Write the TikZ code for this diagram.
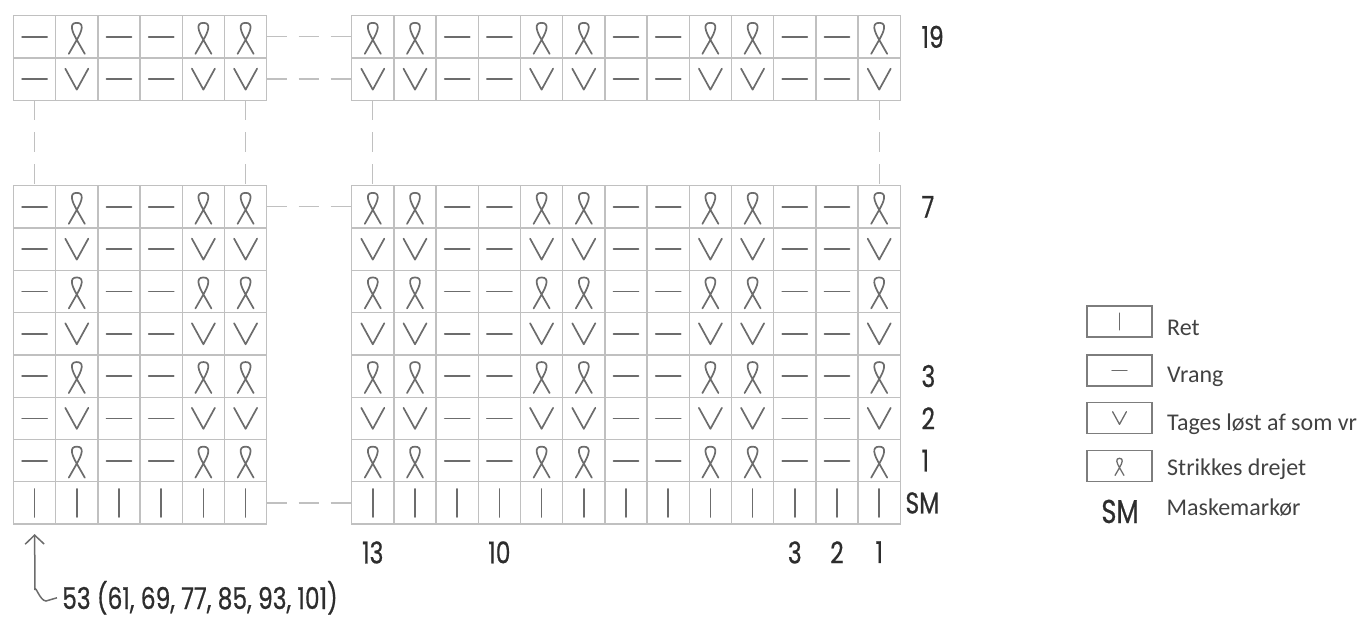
\documentclass[tikz,border=0pt]{standalone}
\usepackage{fontspec}
\usetikzlibrary{arrows.meta,positioning}
\setmainfont{Carlito}
\newfontfamily\chartfont[FakeStretch=0.78,FakeBold=0.6]{Poppins}
\definecolor{gridgray}{RGB}{192,192,192}
\definecolor{symgray}{RGB}{108,108,108}
\definecolor{textgray}{RGB}{45,45,45}
\definecolor{keygray}{RGB}{125,125,125}

\begin{document}
\begin{tikzpicture}[x=1pt,y=-1pt,
    cell/.style={draw=gridgray,line width=1.3pt,minimum width=42.2pt,
                 minimum height=42.3pt,inner sep=0pt,outer sep=0pt},
    sym/.style={draw=symgray,line width=1.7pt,line cap=round,line join=round},
    link/.style={draw=gridgray,line width=1.3pt,dash pattern=on 20pt off 12pt},
    chartlbl/.style={font=\chartfont\fontsize{30}{30}\selectfont,text=textgray,inner sep=0pt},
    keybox/.style={draw=keygray,line width=1.4pt,minimum width=65pt,minimum height=31pt,
                   inner sep=0pt,outer sep=0pt},
    keytxt/.style={font=\fontsize{24}{24}\selectfont,text=textgray!90,inner sep=0pt},
    pointer/.style={draw=symgray,line width=1.5pt,-{Straight Barb[length=9pt,width=19pt]}},
    pics/stitch/.style={code={
      \ifcase#1\relax
        \draw[sym] (-12.5,0) -- (12.5,0);
      \or
        \draw[sym] (-8,17) -- (0,3) .. controls (5,-5.5) and (8,-14) .. (0,-14)
                   .. controls (-8,-14) and (-5,-5.5) .. (0,3) -- (8,17);
      \or
        \draw[sym] (-11.5,-10.5) -- (0,10.5) -- (11.5,-10.5);
      \or
        \draw[sym] (0,-14) -- (0,14);
      \fi}}
]
    \useasboundingbox (0,0) rectangle (1365,617);

    % left part, rows 19 and 18
    \foreach \t [count=\r from 0] in {1,2}
      \foreach \f [count=\c from 0] in {0,1,0,0,1,1} {
        \pgfmathtruncatemacro\k{\f*\t}
        \node[cell] (LT-\r-\c) at (34.6+42.2*\c,36.85+42.3*\r) {};
        \pic at (LT-\r-\c) {stitch=\k};
      }
    % right part, rows 19 and 18
    \foreach \t [count=\r from 0] in {1,2}
      \foreach \f [count=\c from 0] in {1,1,0,0,1,1,0,0,1,1,0,0,1} {
        \pgfmathtruncatemacro\k{\f*\t}
        \node[cell] (RT-\r-\c) at (372.8+42.2*\c,36.85+42.3*\r) {};
        \pic at (RT-\r-\c) {stitch=\k};
      }
    % left part, rows 7 to SM
    \foreach \t [count=\r from 0] in {1,2,1,2,1,2,1,3}
      \foreach \f [count=\c from 0] in {0,1,0,0,1,1} {
        \pgfmathtruncatemacro\k{\t==3 ? 3 : \f*\t}
        \node[cell] (LB-\r-\c) at (34.6+42.2*\c,206.85+42.3*\r) {};
        \pic at (LB-\r-\c) {stitch=\k};
      }
    % right part, rows 7 to SM
    \foreach \t [count=\r from 0] in {1,2,1,2,1,2,1,3}
      \foreach \f [count=\c from 0] in {1,1,0,0,1,1,0,0,1,1,0,0,1} {
        \pgfmathtruncatemacro\k{\t==3 ? 3 : \f*\t}
        \node[cell] (RB-\r-\c) at (372.8+42.2*\c,206.85+42.3*\r) {};
        \pic at (RB-\r-\c) {stitch=\k};
      }

    % dashed gaps
    \draw[link] (LT-0-5.east) -- (RT-0-0.west);
    \draw[link] (LT-1-5.east) -- (RT-1-0.west);
    \draw[link] (LB-0-5.east) -- (RB-0-0.west);
    \draw[link] (LB-7-5.east) -- (RB-7-0.west);
    \draw[link] (LT-1-0.south) -- (LB-0-0.north);
    \draw[link] (LT-1-5.south) -- (LB-0-5.north);
    \draw[link] (RT-1-0.south) -- (RB-0-0.north);
    \draw[link] (RT-1-12.south) -- (RB-0-12.north);

    % row numbers
    \node[chartlbl,right=21pt of RT-0-12] (r19) {19};
    \node[chartlbl,right=21pt of RB-0-12] (r7) {7};
    \node[chartlbl,right=21pt of RB-4-12] (r3) {3};
    \node[chartlbl,right=21pt of RB-5-12] (r2) {2};
    \node[chartlbl,right=21pt of RB-6-12] (r1) {1};
    \node[chartlbl,right=5pt of RB-7-12] (rsm) {SM};

    % stitch numbers
    \node[chartlbl,below=17pt of RB-7-0] (c13) {13};
    \node[chartlbl,below=17pt of RB-7-3] (c10) {10};
    \node[chartlbl,below=17pt of RB-7-10] (c3) {3};
    \node[chartlbl,below=17pt of RB-7-11] (c2) {2};
    \node[chartlbl,below=17pt of RB-7-12] (c1) {1};

    % cast on count
    \node[chartlbl,anchor=base west] (cast) at (62,609) {53 (61, 69, 77, 85, 93, 101)};
    \coordinate (turn) at (35,590);
    \draw[pointer] ([xshift=-5pt]cast.west) -- (46,601) to[out=180,in=90] (turn)
        -- ([yshift=-10pt]LB-7-0.south);

    % key
    \node[keybox] (kret) at (1119.5,321.5) {};
    \node[keybox] (kvrang) at (1119.5,370.5) {};
    \node[keybox] (kslip) at (1119.5,418) {};
    \node[keybox] (ktwist) at (1119.5,466) {};
    \pic[scale=0.6,sym/.append style={line width=1.3pt}] at (kret) {stitch=3};
    \pic[scale=0.6,sym/.append style={line width=1.3pt}] at (kvrang) {stitch=0};
    \pic[scale=0.6,sym/.append style={line width=1.3pt}] at (kslip) {stitch=2};
    \pic[scale=0.55,sym/.append style={line width=1.3pt}] at (ktwist) {stitch=1};
    \node[keytxt,right=15pt of kret.south east,anchor=base west,yshift=1pt] (tret) {Ret};
    \node[keytxt,right=15pt of kvrang.south east,anchor=base west,yshift=3pt] (tvrang) {Vrang};
    \node[keytxt,right=15pt of kslip.south east,anchor=base west,yshift=3pt] (tslip) {Tages løst af som vr};
    \node[keytxt,right=15pt of ktwist.south east,anchor=base west,yshift=6pt] (ttwist) {Strikkes drejet};
    \node[chartlbl,font=\chartfont\fontsize{33}{33}\selectfont,anchor=base] (ksm) at (1120,523) {SM};
    \node[keytxt,anchor=base west] (tsm) at (1166.5,515) {Maskemarkør};
\end{tikzpicture}
\end{document}
